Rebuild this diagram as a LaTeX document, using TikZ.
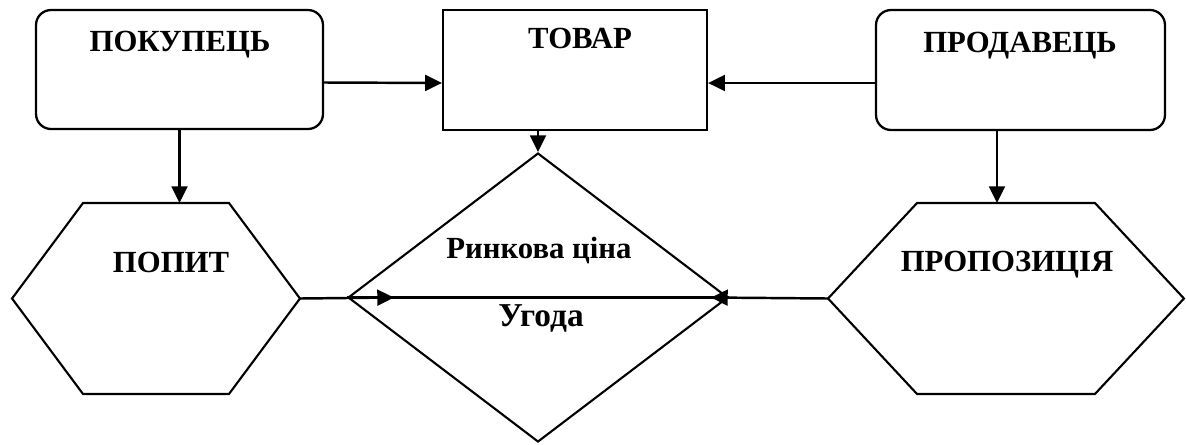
\documentclass[tikz,border=0pt]{standalone}
\usepackage{fontspec}
\setmainfont{Liberation Serif}
\usetikzlibrary{arrows.meta, calc, shapes.geometric}
\tikzset{
  box/.style={draw, line width=1.3pt, rounded corners=0.3cm, minimum width=5.74cm, minimum height=2.38cm},
  sq/.style={draw, line width=1.3pt, minimum width=5.28cm, minimum height=2.4cm},
  hex/.style={inner sep=0pt, outer sep=0pt, minimum height=3.82cm, minimum width=#1},
  lbl/.style={font=\fontsize{17.5}{20}\selectfont\bfseries, anchor=base, inner sep=0pt},
  arr/.style={-{Triangle[length=9.5pt, width=9pt]}, line width=1.4pt},
  ln/.style={line width=1.2pt},
}
\begin{document}
\begin{tikzpicture}[x=0.02cm, y=-0.02cm]
  \useasboundingbox (0,0) rectangle (1186,444);
  % top row
  \node[box] (buyer) at (179.5,69.5) {};
  \node[sq] (goods) at (575,70) {};
  \node[box, minimum width=5.78cm, minimum height=2.4cm] (seller) at (1020.5,70) {};
  \node[lbl] (buyer-t) at (180,51) {ПОКУПЕЦЬ};
  \node[lbl] (goods-t) at (580,48) {ТОВАР};
  \node[lbl] (seller-t) at (1020,52) {ПРОДАВЕЦЬ};
  % bottom row
  \node[hex=5.76cm] (demand) at (156,298.5) {};
  \node[hex=7.12cm] (supply) at (1006,298.5) {};
  \node[draw, diamond, ln, minimum width=7.6cm, minimum height=5.78cm, inner sep=0pt] (price) at (538,297.5) {};
  \draw[ln] (demand.west) -- ([xshift=1.42cm]demand.north west) -- ([xshift=-1.42cm]demand.north east)
    -- (demand.east) -- ([xshift=-1.42cm]demand.south east) -- ([xshift=1.42cm]demand.south west) -- cycle;
  \draw[ln] (supply.west) -- ([xshift=1.78cm]supply.north west) -- ([xshift=-1.78cm]supply.north east)
    -- (supply.east) -- ([xshift=-1.78cm]supply.south east) -- ([xshift=1.78cm]supply.south west) -- cycle;
  \node[lbl] (demand-t) at (171,272) {ПОПИТ};
  \node[lbl] (supply-t) at (1007,271) {ПРОПОЗИЦІЯ};
  \node[lbl] (price-t) at (539,258) {Ринкова ціна};
  \node[lbl, font=\fontsize{19}{22}\selectfont\bfseries] (deal-t) at (541,326) {Угода};
  % connectors
  \draw[arr] ([yshift=-0.26cm]buyer.east) -- ([yshift=-0.26cm]goods.west);
  \draw[arr] ([yshift=-0.26cm]seller.west) -- ([yshift=-0.26cm]goods.east);
  \draw[arr] (buyer) -- (buyer |- demand.north);
  \draw[arr] ([xshift=-0.47cm]seller.south) -- ([xshift=-0.47cm]seller.south |- supply.north);
  \draw[arr] (price.north |- goods.south) -- (price.north);
  \draw[ln] (price.west) -- (price.east);
  \draw[arr] (demand.east) -- ($(price.west)+(47,0)$);
  \draw[arr] (supply.west) -- ($(price.east)+(-18,0)$);
\end{tikzpicture}
\end{document}
